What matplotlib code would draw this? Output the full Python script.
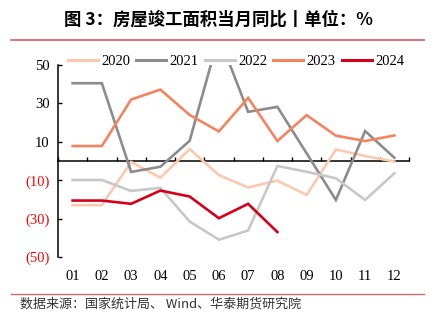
import matplotlib
matplotlib.use("Agg")
import matplotlib.pyplot as plt
from matplotlib.lines import Line2D

# ── Data: monthly YoY change of completed floor area (%) ─────────────────────
months = ["01", "02", "03", "04", "05", "06", "07", "08", "09", "10", "11", "12"]
y2020 = [-23, -23, -0.5, -8.7, 6.2, -7.3, -13.8, -10.2, -17.7, 6.0, 2.6, -0.3]
y2021 = [40.5, 40.5, -5.7, -3.0, 10.5, 65.0, 25.6, 28.2, 4.0, -20.3, 15.6, 1.7]
y2022 = [-9.9, -9.9, -15.6, -14.0, -31.5, -41.0, -36.2, -2.6, -5.6, -9.0, -20.3, -6.4]
y2023 = [7.8, 7.8, 32.0, 37.2, 24.0, 15.4, 32.9, 10.4, 23.9, 13.2, 10.4, 13.3]
y2024 = [-20.6, -20.6, -22.3, -15.4, -18.5, -29.8, -22.3, -37.0]

series = [
    ("2020", y2020, "#fbc9b0"),
    ("2021", y2021, "#8c8c8c"),
    ("2022", y2022, "#c8c8c8"),
    ("2023", y2023, "#f4845f"),
    ("2024", y2024, "#d7001a"),
]
yticks = [50, 30, 10, -10, -30, -50]

SERIF = ["Liberation Serif", "DejaVu Serif"]
CJK = ["Noto Sans CJK SC", "DejaVu Sans"]
RULE = "#d46a6a"

fig = plt.figure(figsize=(4.37, 3.25), dpi=100)
fig.patch.set_facecolor("white")
ax = fig.add_axes([58 / 437, 1 - 257 / 325, 351 / 437, 192 / 325])

x = list(range(len(months)))
for name, vals, color in series:
    ax.plot(x[:len(vals)], vals, color=color, lw=1.9, label=name,
            solid_joinstyle="miter", zorder=3)

ax.set_xlim(-0.5, len(months) - 0.5)
ax.set_ylim(-50, 50)

# y axis: inward ticks, negatives in parentheses and red
ax.set_yticks(yticks)
ax.set_yticklabels([f"({-v})" if v < 0 else f"{v}" for v in yticks],
                   family=SERIF, fontsize=10.5)
for lbl, v in zip(ax.get_yticklabels(), yticks):
    lbl.set_color("#ff0000" if v < 0 else "black")
ax.tick_params(axis="y", direction="in", length=3, width=1, pad=6)

# x axis: zero line carries the boundary ticks, month labels stay at bottom
ax.spines["bottom"].set_visible(False)
ax.spines["right"].set_visible(False)
ax.spines["top"].set_position(("data", 0))
ax.spines["top"].set_linewidth(1.1)
ax.spines["left"].set_linewidth(1.1)
ax.set_xticks(x)
ax.set_xticklabels(months, family=SERIF, fontsize=10.5)
ax.set_xticks([i - 0.5 for i in range(len(months) + 1)], minor=True)
ax.tick_params(axis="x", which="major", length=0, pad=9)
ax.tick_params(axis="x", which="minor", top=True, bottom=False,
               direction="out", length=3, width=1)

handles = [Line2D([], [], color=c, lw=2.2) for _, _, c in series]
fig.legend(handles, [s[0] for s in series], loc="center",
           bbox_to_anchor=(236 / 437, 1 - 61 / 325), ncol=5, frameon=False,
           prop={"family": SERIF, "size": 10.5}, handlelength=2.05,
           handletextpad=0.25, columnspacing=0.4, borderpad=0.1)

# title and rules
fig.text(218 / 437, 1 - 20 / 325, "图 3：房屋竣工面积当月同比丨单位：%",
         ha="center", va="center", fontsize=12.5, fontweight="bold",
         family=CJK)
fig.add_artist(Line2D([11 / 437, 424 / 437], [1 - 40 / 325] * 2,
                      color=RULE, lw=1.3))
fig.add_artist(Line2D([11 / 437, 424 / 437], [1 - 294 / 325] * 2,
                      color=RULE, lw=1.0))
fig.text(20 / 437, 1 - 304 / 325, "数据来源：国家统计局、 Wind、华泰期货研究院",
         ha="left", va="center", fontsize=9.4, color="#333333", family=CJK)

fig.savefig("out.png", dpi=100, facecolor="white")
